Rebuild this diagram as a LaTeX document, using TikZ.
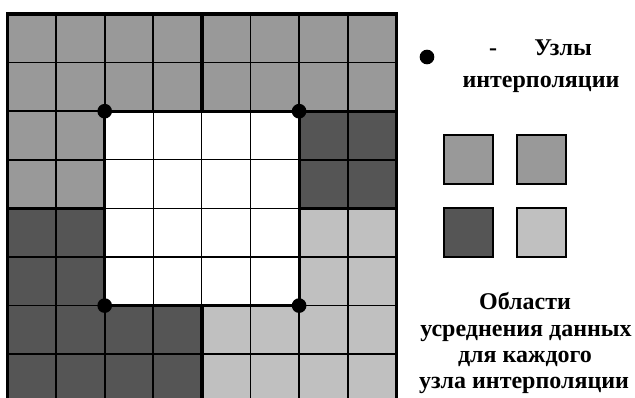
\documentclass[tikz,border=0pt]{standalone}
\usepackage{fontspec}
\setmainfont{Liberation Serif}[BoldFont={Liberation Serif Bold}]
\definecolor{midg}{RGB}{153,153,153}
\definecolor{darkg}{RGB}{85,85,85}
\definecolor{lightg}{RGB}{192,192,192}
\tikzset{
  thickline/.style={line width=2.4pt, line cap=rect},
  gridline/.style={line width=1.3pt},
  thingrid/.style={line width=0.8pt},
  knot/.style={circle, fill=black, inner sep=0pt, minimum size=11pt},
  legbox/.style={draw=black, line width=1.1pt, minimum size=36.5pt, inner sep=0pt},
  lbl/.style={font=\bfseries\fontsize{18}{21}\selectfont, inner sep=0pt, anchor=base},
}
\begin{document}
\begin{tikzpicture}[x=0.75pt,y=-0.75pt]
\useasboundingbox (0,0) rectangle (635,398);
\begin{scope}
\clip (0,0) rectangle (635,398);
\begin{scope}[shift={(7.5,14)}, x=36.45pt, y=-36.45pt]
  % fills
  \fill[midg] (0,0) rectangle (8,2);
  \fill[midg] (0,2) rectangle (2,4);
  \fill[darkg] (6,2) rectangle (8,4);
  \fill[darkg] (0,4) rectangle (2,8);
  \fill[darkg] (2,6) rectangle (4,8);
  \fill[lightg] (6,4) rectangle (8,8);
  \fill[lightg] (4,6) rectangle (6,8);
  \fill[white] (2,2) rectangle (6,6);
  % grid lines outside the white square
  \foreach \i in {1,...,7} {
    \draw[gridline] (\i,0) -- (\i,2);
    \draw[gridline] (\i,6) -- (\i,8.2);
    \draw[gridline] (0,\i) -- (2,\i);
    \draw[gridline] (6,\i) -- (8,\i);
  }
  \foreach \i in {1,7} {
    \draw[gridline] (\i,2) -- (\i,6);
    \draw[gridline] (2,\i) -- (6,\i);
  }
  % thinner lines inside the white square
  \foreach \i in {3,4,5} {
    \draw[thingrid] (\i,2) -- (\i,6);
    \draw[thingrid] (2,\i) -- (6,\i);
  }
  % thick region borders
  \draw[thickline] (0,8.2) -- (0,0) -- (8,0) -- (8,8.2);
  \draw[thickline] (2,2) rectangle (6,6);
  \draw[thickline] (4,0) -- (4,2);
  \draw[thickline] (4,6) -- (4,8.2);
  \draw[thickline] (6,2) -- (8,2);
  \draw[thickline] (0,4) -- (2,4);
  \draw[thickline] (6,4) -- (8,4);
  % interpolation knots
  \node[knot] (n1) at (2,2) {};
  \node[knot] (n2) at (6,2) {};
  \node[knot] (n3) at (2,6) {};
  \node[knot] (n4) at (6,6) {};
\end{scope}
\end{scope}
% legend
\node[knot] (ld) at (427,57) {};
\node[lbl] (dash) at (493,56) {-};
\node[lbl] (t1) at (563,56) {Узлы};
\node[lbl] (t2) at (541,88) {интерполяции};
\node[legbox, fill=midg] (b1) at (468.5,159.5) {};
\node[legbox, fill=midg] (b2) at (541.5,159.5) {};
\node[legbox, fill=darkg] (b3) at (468.5,232.5) {};
\node[legbox, fill=lightg] (b4) at (541.5,232.5) {};
\node[lbl] (a1) at (525,310) {Области};
\node[lbl] (a2) at (526,337) {усреднения данных};
\node[lbl] (a3) at (525,363) {для каждого};
\node[lbl] (a4) at (524,389) {узла интерполяции};
\end{tikzpicture}
\end{document}
